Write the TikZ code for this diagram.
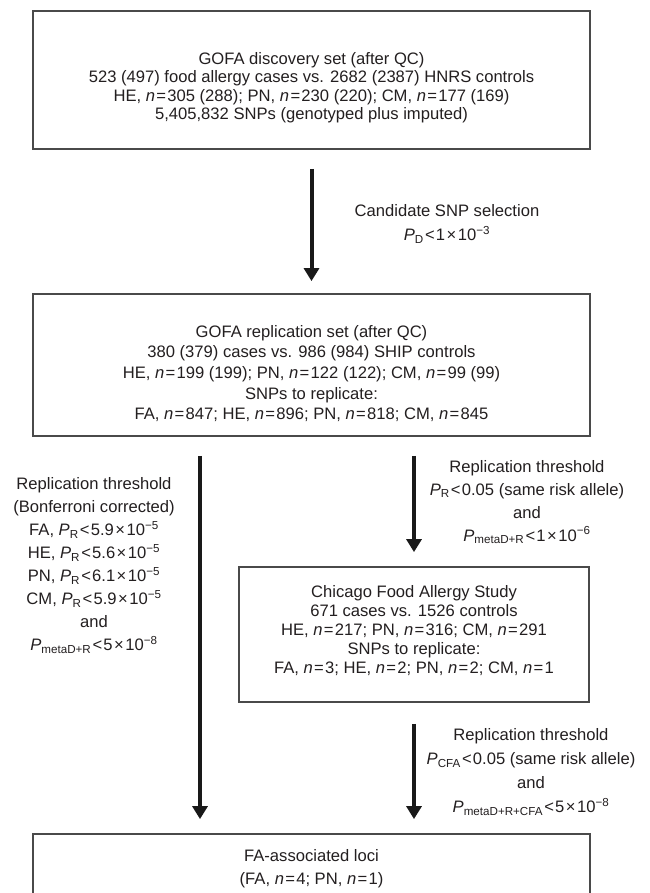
\documentclass[tikz,border=0pt]{standalone}
\usepackage{fontspec}
\setmainfont{Liberation Sans}
\usetikzlibrary{arrows.meta}
\definecolor{txt}{HTML}{231F20}
\definecolor{boxline}{HTML}{4A4A4A}
\newcommand\Pv[1]{\textit{P}\textsubscript{#1}}
\newcommand\nn{\textit{n}\kern1.3pt=\kern1.3pt}
\newcommand\lth{\kern1.2pt<\kern1.2pt}
\newcommand\tms{\kern1.5pt×\kern1.5pt}
\newcommand\tenexp[1]{10\textsuperscript{−#1}}
\newcommand\fs[1]{\fontsize{16.6}{#1}\selectfont}
\tikzset{
  box/.style={draw=boxline, line width=1.8pt, rectangle, inner sep=0pt},
  txtnode/.style={text=txt, align=center, inner sep=0pt},
  arr/.style={draw=black!90, line width=4pt, -{Triangle[width=15pt,length=13pt]}}
}
\begin{document}
\begin{tikzpicture}[x=1pt,y=-1pt]
\useasboundingbox (0,0) rectangle (649,893);
\clip (0,0) rectangle (649,893);
\fill[white] (0,0) rectangle (649,893);

% boxes
\node[box, minimum width=557pt, minimum height=138pt] (disc) at (311.5,80) {};
\node[box, minimum width=557pt, minimum height=142pt] (rep) at (311.5,365) {};
\node[box, minimum width=350pt, minimum height=135pt] (chi) at (414,634.5) {};
\node[box, minimum width=557pt, minimum height=126pt] (loci) at (311.5,897) {};

% box texts
\node[txtnode, font=\fs{18.5pt}] (disctext) at (311.5,87.5) {GOFA discovery set (after QC)\\
523 (497) food allergy cases vs. 2682 (2387) HNRS controls\\
HE, \nn305 (288); PN, \nn230 (220); CM, \nn177 (169)\\
5,405,832 SNPs (genotyped plus imputed)};

\node[txtnode, font=\fs{20.7pt}] (reptext) at (311.5,373.5) {GOFA replication set (after QC)\\
380 (379) cases vs. 986 (984) SHIP controls\\
HE, \nn199 (199); PN, \nn122 (122); CM, \nn99 (99)\\
SNPs to replicate:\\
FA, \nn847; HE, \nn896; PN, \nn818; CM, \nn845};

\node[txtnode, font=\fs{19pt}] (chitext) at (414,631) {Chicago Food Allergy Study\\
671 cases vs. 1526 controls\\
HE, \nn217; PN, \nn316; CM, \nn291\\
SNPs to replicate:\\
FA, \nn3; HE, \nn2; PN, \nn2; CM, \nn1};

\node[txtnode, font=\fs{23pt}] (locitext) at (311.5,868.5) {FA-associated loci\\
(FA, \nn4; PN, \nn1)};

% arrows
\coordinate (lx) at (200,0);
\coordinate (rx) at (414,0);
\draw[arr, shorten <=19pt, shorten >=12pt] (disc.south) -- (rep.north);
\draw[arr, shorten <=19pt, shorten >=14pt] (rep.south -| lx) -- (loci.north -| lx);
\draw[arr, shorten <=19pt, shorten >=14pt] (rep.south -| rx) -- (chi.north);
\draw[arr, shorten <=21pt, shorten >=14pt] (chi.south) -- (loci.north -| chi.south);

% arrow labels
\node[txtnode, font=\fs{24pt}] (lab1) at (447,224) {Candidate SNP selection\\
\Pv{D}\lth1\tms\tenexp{3}};

\node[txtnode, font=\fs{23pt}] (lab2) at (94,565.5) {Replication threshold\\
(Bonferroni corrected)\\
FA, \Pv{R}\lth5.9\tms\tenexp{5}\\
HE, \Pv{R}\lth5.6\tms\tenexp{5}\\
PN, \Pv{R}\lth6.1\tms\tenexp{5}\\
CM, \Pv{R}\lth5.9\tms\tenexp{5}\\
and\\
\Pv{metaD+R}\lth5\tms\tenexp{8}};

\node[txtnode, font=\fs{23pt}] (lab3) at (527,502) {Replication threshold\\
\Pv{R}\lth0.05 (same risk allele)\\
and\\
\Pv{metaD+R}\lth1\tms\tenexp{6}};

\node[txtnode, font=\fs{24pt}] (lab4) at (531,772) {Replication threshold\\
\Pv{CFA}\lth0.05 (same risk allele)\\
and\\
\Pv{metaD+R+CFA}\lth5\tms\tenexp{8}};
\end{tikzpicture}
\end{document}
